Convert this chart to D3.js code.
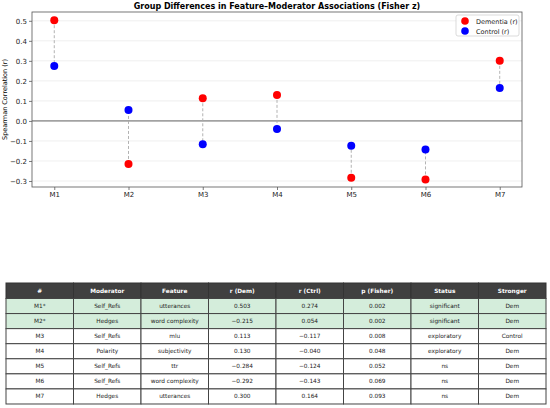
<!DOCTYPE html>
<html>
<head>
    <meta charset="utf-8">
    <title>Group Differences in Feature-Moderator Associations</title>
    <script src="https://d3js.org/d3.v7.min.js"></script>
    <style>
        body { margin: 0; background: white; }
        svg text { font-family: "DejaVu Sans", sans-serif; }
    </style>
</head>
<body>
<svg id="chart" width="550" height="408"></svg>
<script>
    // chart data
    var ids = ["M1", "M2", "M3", "M4", "M5", "M6", "M7"];
    var rowLabels = ["M1*", "M2*", "M3", "M4", "M5", "M6", "M7"];
    var moderators = ["Self_Refs", "Hedges", "Self_Refs", "Polarity", "Self_Refs", "Self_Refs", "Hedges"];
    var features = ["utterances", "word complexity", "mlu", "subjectivity", "ttr", "word complexity", "utterances"];
    var rDem = [0.503, -0.215, 0.113, 0.130, -0.284, -0.292, 0.300];
    var rCtrl = [0.274, 0.054, -0.117, -0.040, -0.124, -0.143, 0.164];
    var pFisher = [0.002, 0.002, 0.008, 0.048, 0.052, 0.069, 0.093];
    var statusLabels = ["significant", "significant", "exploratory", "exploratory", "ns", "ns", "ns"];
    var stronger = ["Dem", "Dem", "Control", "Dem", "Dem", "Dem", "Dem"];
    var yTicks = [-0.3, -0.2, -0.1, 0.0, 0.1, 0.2, 0.3, 0.4, 0.5];
    var headers = ["#", "Moderator", "Feature", "r (Dem)", "r (Ctrl)", "p (Fisher)", "Status", "Stronger"];

    var svg = d3.select("#chart");
    var minus = s => s.replace("-", "\u2212");

    var plot = {left: 32, right: 522, top: 12, bottom: 187};

    var x = d3.scaleLinear().domain([-0.3, 6.3]).range([plot.left, plot.right]);
    var y = d3.scaleLinear().domain([-0.33, 0.544]).range([plot.bottom, plot.top]);

    // grid lines
    svg.append("g").selectAll("line")
        .data(yTicks)
        .enter().append("line")
        .attr("x1", plot.left).attr("x2", plot.right)
        .attr("y1", d => y(d)).attr("y2", d => y(d))
        .attr("stroke", "#ebebeb").attr("stroke-width", 0.8);

    // zero line
    svg.append("line")
        .attr("x1", plot.left).attr("x2", plot.right)
        .attr("y1", y(0)).attr("y2", y(0))
        .attr("stroke", "#666").attr("stroke-width", 1);

    // axes
    var yAxis = d3.axisLeft(y).tickValues(yTicks).tickSize(3).tickPadding(2)
        .tickFormat(d => minus(d3.format(".1f")(d)));
    var gy = svg.append("g").attr("transform", "translate(" + plot.left + ",0)").call(yAxis);
    var xAxis = d3.axisBottom(x).tickValues(d3.range(ids.length)).tickSize(3).tickPadding(2)
        .tickFormat(i => ids[i]);
    var gx = svg.append("g").attr("transform", "translate(0," + plot.bottom + ")").call(xAxis);
    [gx, gy].forEach(g => {
        g.select(".domain").remove();
        g.selectAll("line").attr("stroke", "#444").attr("stroke-width", 0.7);
        g.selectAll("text").attr("fill", "#222").style("font-size", "7px");
    });

    // frame
    svg.append("rect")
        .attr("x", plot.left).attr("y", plot.top)
        .attr("width", plot.right - plot.left).attr("height", plot.bottom - plot.top)
        .attr("fill", "none").attr("stroke", "#555").attr("stroke-width", 0.8);

    // connecting dashed lines
    svg.append("g").selectAll("line")
        .data(ids)
        .enter().append("line")
        .attr("x1", (d, i) => x(i)).attr("x2", (d, i) => x(i))
        .attr("y1", (d, i) => y(rDem[i])).attr("y2", (d, i) => y(rCtrl[i]))
        .attr("stroke", "#aaa").attr("stroke-width", 0.9)
        .attr("stroke-dasharray", "3,2");

    svg.append("g").selectAll("circle")
        .data(rDem)
        .enter().append("circle")
        .attr("cx", (d, i) => x(i)).attr("cy", d => y(d)).attr("r", 4)
        .attr("fill", "red");

    svg.append("g").selectAll("circle")
        .data(rCtrl)
        .enter().append("circle")
        .attr("cx", (d, i) => x(i)).attr("cy", d => y(d)).attr("r", 4)
        .attr("fill", "blue");

    // title and labels
    svg.append("text")
        .attr("x", 277).attr("y", 9)
        .attr("text-anchor", "middle")
        .style("font-size", "8px").style("font-weight", "bold")
        .text("Group Differences in Feature\u2013Moderator Associations (Fisher z)");

    svg.append("text")
        .attr("transform", "translate(7," + ((plot.top + plot.bottom) / 2) + ") rotate(-90)")
        .attr("text-anchor", "middle")
        .style("font-size", "6.5px")
        .text("Spearman Correlation (r)");

    // legend
    var legend = svg.append("g").attr("transform", "translate(456,15)");
    legend.append("rect")
        .attr("width", 63).attr("height", 21).attr("rx", 2)
        .attr("fill", "white").attr("fill-opacity", 0.8)
        .attr("stroke", "#ccc").attr("stroke-width", 0.7);
    [["Dementia (r)", "red"], ["Control (r)", "blue"]].forEach((item, i) => {
        legend.append("circle").attr("cx", 9).attr("cy", 6 + i * 10).attr("r", 3.8).attr("fill", item[1]);
        legend.append("text").attr("x", 20).attr("y", 8.5 + i * 10)
            .style("font-size", "6.5px").attr("fill", "#222").text(item[0]);
    });

    // table
    var table = {left: 6, right: 546, top: 283, headerH: 15.5, rowH: 15.07};
    var colW = (table.right - table.left) / headers.length;
    var rows = ids.map((d, i) => [
        rowLabels[i], moderators[i], features[i],
        minus(d3.format(".3f")(rDem[i])), minus(d3.format(".3f")(rCtrl[i])),
        d3.format(".3f")(pFisher[i]), statusLabels[i], stronger[i]
    ]);

    var tg = svg.append("g");
    headers.forEach((h, j) => {
        tg.append("rect")
            .attr("x", table.left + j * colW).attr("y", table.top)
            .attr("width", colW).attr("height", table.headerH)
            .attr("fill", "#404040").attr("stroke", "#333").attr("stroke-width", 1);
        tg.append("text")
            .attr("x", table.left + (j + 0.5) * colW).attr("y", table.top + table.headerH / 2 + 2)
            .attr("text-anchor", "middle").attr("fill", "white")
            .style("font-size", "5.8px").style("font-weight", "bold")
            .text(h);
    });
    rows.forEach((row, i) => {
        var ry = table.top + table.headerH + i * table.rowH;
        row.forEach((cell, j) => {
            tg.append("rect")
                .attr("x", table.left + j * colW).attr("y", ry)
                .attr("width", colW).attr("height", table.rowH)
                .attr("fill", statusLabels[i] === "significant" ? "#d4eddb" : "white")
                .attr("stroke", "#444").attr("stroke-width", 1);
            tg.append("text")
                .attr("x", table.left + (j + 0.5) * colW).attr("y", ry + table.rowH / 2 + 2)
                .attr("text-anchor", "middle").attr("fill", "#222")
                .style("font-size", "5.8px")
                .text(cell);
        });
    });
</script>
</body>
</html>
